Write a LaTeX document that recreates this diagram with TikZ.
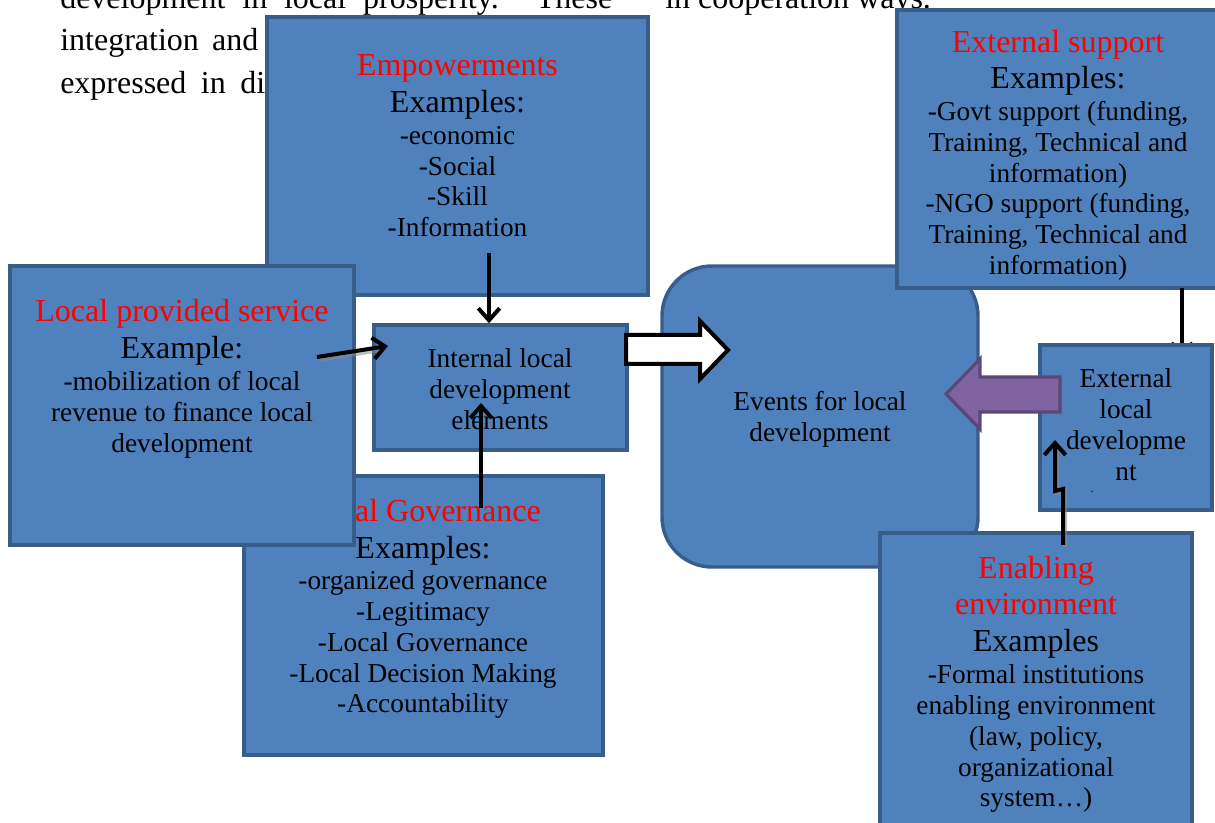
\documentclass[tikz,border=0pt]{standalone}
\usepackage{fontspec}
\setmainfont{Liberation Serif}
\usetikzlibrary{arrows.meta,fit,calc}
\definecolor{bfill}{HTML}{4F81BD}
\definecolor{bord}{HTML}{385D8A}
\definecolor{pfill}{HTML}{8064A2}
\definecolor{pbord}{HTML}{5C4776}
\newcommand\tfnt{\fontsize{24}{27}\selectfont}
\newcommand\bfnt{\fontsize{20.5}{23.1}\selectfont}
\newcommand\ttl[1]{{\tfnt\color{red}#1}}
\newcommand\exm[1]{{\tfnt #1}}
\begin{document}
\begin{tikzpicture}[x=0.75pt,y=-0.75pt,
  bx/.style={draw=bord,fill=bfill,line width=2.6pt,inner sep=0pt},
  txt/.style={align=center,inner sep=0pt,font=\bfnt},
  para/.style={anchor=base west,inner sep=0pt,font=\tfnt},
  ar/.style={line width=3pt,-{Straight Barb[length=9pt,width=16pt]}},
  shd/.style={line width=3pt,draw=black!45,opacity=0.55},
  blk/.style={line width=3pt,draw=black,fill=white,line join=miter},
  pblk/.style={line width=2.4pt,draw=pbord,fill=pfill,line join=miter}]
\useasboundingbox (0,0) rectangle (1215,823);
\clip (0,0) rectangle (1215,823);

% paragraph text behind the diagram
\node[para] (l1) at (60,9) {\makebox[414pt][s]{development in local prosperity. These}};
\node[para] (l1b) at (665,9) {in cooperation ways.};
\node[para] (l2) at (60,51) {\makebox[148.5pt][s]{integration and}};
\node[para] (l3) at (60,94) {\makebox[153.75pt][s]{expressed in di}};

% events
\node[bx,rounded corners=37.5pt,fit={(662,266) (978,567)}] (ev) {};
\node[txt] (evT) at (820,419) {Events for local\\development};

% local governance
\node[bx,fit={(244,476) (603,755)}] (gov) {};
\node[txt] (govT) at (423,609) {\ttl{Local Governance}\\[4.5pt]\exm{Examples:}\\[0.6pt]-organized governance\\-Legitimacy\\-Local Governance\\-Local Decision Making\\-Accountability};

% empowerments
\node[bx,fit={(267,17) (648,295)}] (emp) {};
\node[txt] (empT) at (457.5,146) {\ttl{Empowerments}\\[4.5pt]\exm{Examples:}\\[0.6pt]-economic\\-Social\\-Skill\\-Information};

% local provided service
\node[bx,fit={(10,266) (354,545)}] (svc) {};
\node[txt] (svcT) at (182,379) {\ttl{Local provided service}\\[4.3pt]\exm{Example:}\\[1.3pt]-mobilization of local\\revenue to finance local\\development};

% internal
\node[bx,fit={(374,325) (627,450)}] (int) {};
\node[txt] (intT) at (500,389) {Internal local\\development\\elements};

% external support
\node[bx,fit={(897,10) (1222,288)}] (exs) {};
\node[txt] (exsT) at (1058,155.5) {\ttl{External support}\\[3.5pt]\exm{Examples:}\\[1pt]-Govt support (funding,\\Training, Technical and\\information)\\-NGO support (funding,\\Training, Technical and\\information)};

% arrow external support -> external local (tip hidden)
\coordinate (a4s) at (1182,288);
\coordinate (a4e) at (1182,358);
\draw[ar] (a4s) -- (a4e);

% external local development
\node[bx,fit={(1040,345) (1212,510)}] (eld) {};
\node[txt] (eldT) at (1126,424.5) {External\\local\\developme\\nt};
\node[inner sep=0pt,font=\fontsize{9}{9}\selectfont] (eldDot) at (1092,492) {.};

% enabling environment
\node[bx,fit={(880,533) (1192,835)}] (env) {};
\node[txt] (envT) at (1036,684.5) {\ttl{Enabling}\\[4.3pt]\ttl{environment}\\[4.3pt]\exm{Examples}\\[1pt]-Formal institutions\\enabling environment\\(law, policy,\\organizational\\system\ldots)};

% small arrows
\coordinate (a1s) at (489,253);
\draw[ar] (a1s) -- (a1s |- int.north);

\coordinate (a2s) at (317,357);
\coordinate (a2e) at (388,346);
\draw[shd] ($(a2s)+(2,3)$) -- ($(a2e)+(-4,3.5)$);
\draw[ar] (a2s) -- (a2e);

\coordinate (a3s) at (481,508);
\coordinate (a3e) at (481,403);
\draw[ar] (a3s) -- (a3e);

\coordinate (a5s) at (1063,545);
\coordinate (a5m1) at (1063,489);
\coordinate (a5m2) at (1055,491);
\coordinate (a5e) at (1055,440);
\draw[shd] ($(a5s)+(2,2)$) -- ($(a5m1)+(2,2)$) -- ($(a5m2)+(2,2)$) -- ($(a5e)+(2,12)$);
\draw[ar] (a5s) -- (a5m1) -- (a5m2) -- (a5e);

% block arrows
\draw[blk] (626,335) -- (700,335) -- (700,321) -- (728,350) -- (700,379) -- (700,364) -- (626,364) -- cycle;
\draw[pblk] (1060,377) -- (980,377) -- (980,359) -- (946,394) -- (980,429) -- (980,412) -- (1060,412) -- cycle;
\end{tikzpicture}
\end{document}
